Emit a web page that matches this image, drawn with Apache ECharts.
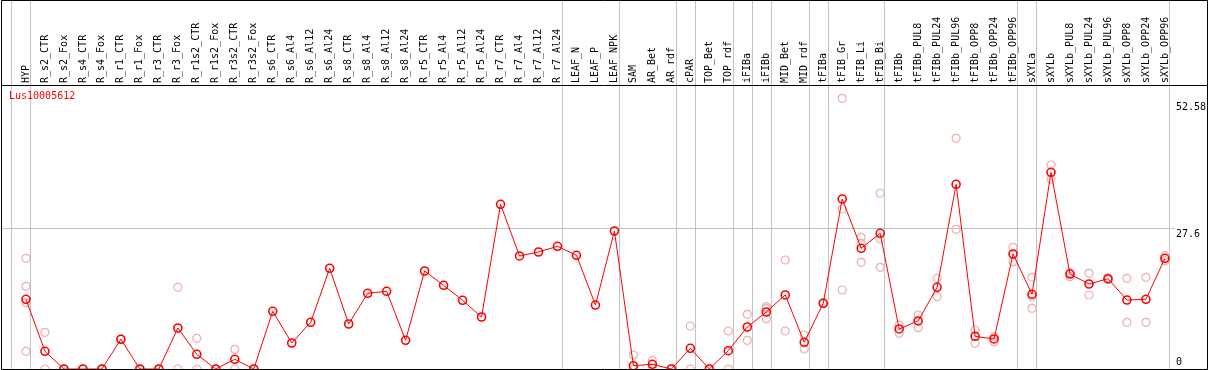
<!DOCTYPE html>
<html><head><meta charset="utf-8">
<script src="https://cdn.jsdelivr.net/npm/echarts@6/dist/echarts.min.js"></script>
<style>html,body{margin:0;padding:0;background:#fff}#c{width:1209px;height:370px}</style>
</head><body><div id="c"></div>
<script>
const geneName = 'Lus10005612';
const categories = ['HYP','R_s2_CTR','R_s2_Fox','R_s4_CTR','R_s4_Fox','R_r1_CTR','R_r1_Fox','R_r3_CTR','R_r3_Fox','R_r1s2_CTR','R_r1s2_Fox','R_r3s2_CTR','R_r3s2_Fox','R_s6_CTR','R_s6_Al4','R_s6_Al12','R_s6_Al24','R_s8_CTR','R_s8_Al4','R_s8_Al12','R_s8_Al24','R_r5_CTR','R_r5_Al4','R_r5_Al12','R_r5_Al24','R_r7_CTR','R_r7_Al4','R_r7_Al12','R_r7_Al24','LEAF_N','LEAF_P','LEAF_NPK','SAM','AR_Bet','AR_rdf','cPAR','TOP_Bet','TOP_rdf','iFIBa','iFIBb','MID_Bet','MID_rdf','tFIBa','tFIB_Gr','tFIB_Li','tFIB_Bi','tFIBb','tFIBb_PUL8','tFIBb_PUL24','tFIBb_PUL96','tFIBb_OPP8','tFIBb_OPP24','tFIBb_OPP96','sXYLa','sXYLb','sXYLb_PUL8','sXYLb_PUL24','sXYLb_PUL96','sXYLb_OPP8','sXYLb_OPP24','sXYLb_OPP96'];
const meanValues = [13.67,3.47,0,0,0,5.83,0,0,8.04,2.88,0,1.90,0,11.32,5.10,9.16,19.75,8.83,14.85,15.24,5.63,19.22,16.42,13.48,10.20,32.31,22.17,22.95,24.07,22.30,12.55,27.07,0.65,0.92,0,4.06,0,3.59,8.24,11.18,14.52,5.24,12.89,33.35,23.68,26.62,7.85,9.42,16.03,36.23,6.41,5.89,22.56,14.65,38.58,18.63,16.67,17.71,13.53,13.67,21.71];
const rep1 = [21.71,7.20,0,0,0,5.9,0,0,16.03,6.02,0,3.86,0,null,null,null,null,null,null,null,null,null,null,null,null,null,null,null,null,null,null,null,2.75,1.63,0,8.43,0,7.45,10.73,12.22,21.38,6.67,13.0,53.10,25.83,34.47,8.63,10.59,17.79,45.25,7.65,6.34,23.87,17.99,40.02,18.89,18.77,17.9,17.79,17.99,22.22];
const rep2 = [16.22,0,0,0,0,5.8,0,0,0,0,0,0,0,null,null,null,null,null,null,null,null,null,null,null,null,null,null,null,null,null,null,null,0,0.2,0,0,0,0,5.63,11.9,7.45,3.92,12.8,31.38,24.66,25.50,7.00,8.10,14.18,27.40,5.04,5.36,21.05,14.18,37.21,18.11,14.52,17.5,9.16,9.16,21.24];
const rep3 = [13.01,null,null,null,null,null,null,null,null,null,null,null,null,null,null,null,null,null,null,null,null,null,null,null,null,null,null,null,null,null,null,null,null,null,null,null,null,null,null,9.87,null,null,null,15.50,20.93,19.95,null,null,null,null,null,null,null,11.91,null,null,null,null,null,null,null];
const rep4 = [3.47,null,null,null,null,null,null,null,null,null,null,null,null,null,null,null,null,null,null,null,null,null,null,null,null,null,null,null,null,null,null,null,null,null,null,null,null,null,null,null,null,null,null,null,null,null,null,null,null,null,null,null,null,null,null,null,null,null,null,null,null];
const groupEnds = [-1,0,28,31,34,35,37,38,39,41,42,45,52,53,60];
const yTickLabels = [0, 27.6, 52.58];
const refLineValue = 27.6;

const MONO = 'DejaVu Sans Mono';
const chart = echarts.init(document.getElementById('c'), null, {renderer: 'canvas'});
const toPts = arr => arr.map((v, i) => v == null ? null : [i, v]).filter(p => p);
const repStyle = {
  type: 'scatter', z: 2, symbol: 'circle', symbolSize: 8, silent: true,
  itemStyle: {color: 'rgba(0,0,0,0)', borderColor: '#e99898', borderWidth: 1.2}
};
chart.setOption({
  animation: false,
  backgroundColor: '#fff',
  title: {text: geneName, left: 9, top: 91, padding: 0,
    textStyle: {color: '#ff0000', fontFamily: MONO, fontSize: 10, fontWeight: 'normal'}},
  grid: {left: 1, right: 33, top: 0, bottom: 1, containLabel: false},
  xAxis: {
    type: 'value', position: 'top', offset: -85, min: -25/19, max: 1150/19,
    axisLine: {show: false}, axisTick: {show: false}, splitLine: {show: false},
    axisLabel: {customValues: categories.map((c, i) => i), formatter: v => categories[Math.round(v)] || '',
      rotate: 90, margin: 2, fontFamily: MONO, fontSize: 10, color: '#000', hideOverlap: false}
  },
  yAxis: {
    type: 'value', position: 'right', min: 0, max: 369/5.098,
    axisLine: {show: false}, axisTick: {show: false}, splitLine: {show: false},
    axisLabel: {customValues: yTickLabels, margin: 1, verticalAlign: 'middle',
      formatter: v => v === 0 ? '{b|' + v + '}' : '{t|' + v + '}',
      rich: {
        t: {fontFamily: MONO, fontSize: 10, color: '#000', padding: [12, 0, 0, 0]},
        b: {fontFamily: MONO, fontSize: 10, color: '#000', padding: [0, 0, 14, 0]}
      }}
  },
  series: [
    {type: 'line', name: 'guides', data: [], z: 1, silent: true,
     markLine: {silent: true, symbol: ['none', 'none'], label: {show: false},
       lineStyle: {color: '#c3c3c3', width: 1, type: 'solid'},
       emphasis: {disabled: true},
       data: groupEnds.map(e => ({xAxis: e + 4.5/19})).concat([{yAxis: refLineValue}])}},
    Object.assign({name: 'rep1', data: toPts(rep1)}, repStyle),
    Object.assign({name: 'rep2', data: toPts(rep2)}, repStyle),
    Object.assign({name: 'rep3', data: toPts(rep3)}, repStyle),
    Object.assign({name: 'rep4', data: toPts(rep4)}, repStyle),
    {type: 'line', name: geneName, z: 5, data: meanValues.map((v, i) => [i, v]),
     symbol: 'circle', symbolSize: 8, showAllSymbol: true, clip: false, silent: true,
     lineStyle: {color: '#ff0000', width: 1},
     itemStyle: {color: 'rgba(0,0,0,0)', borderColor: '#ff0000', borderWidth: 1.6}}
  ],
  graphic: [
    {type: 'rect', silent: true, z: 100, shape: {x: 1.5, y: 0.5, width: 1206, height: 369},
     style: {fill: null, stroke: '#000', lineWidth: 1}},
    {type: 'line', silent: true, z: 100, shape: {x1: 1, y1: 85.5, x2: 1208, y2: 85.5},
     style: {stroke: '#000', lineWidth: 1}}
  ]
});
</script></body></html>
